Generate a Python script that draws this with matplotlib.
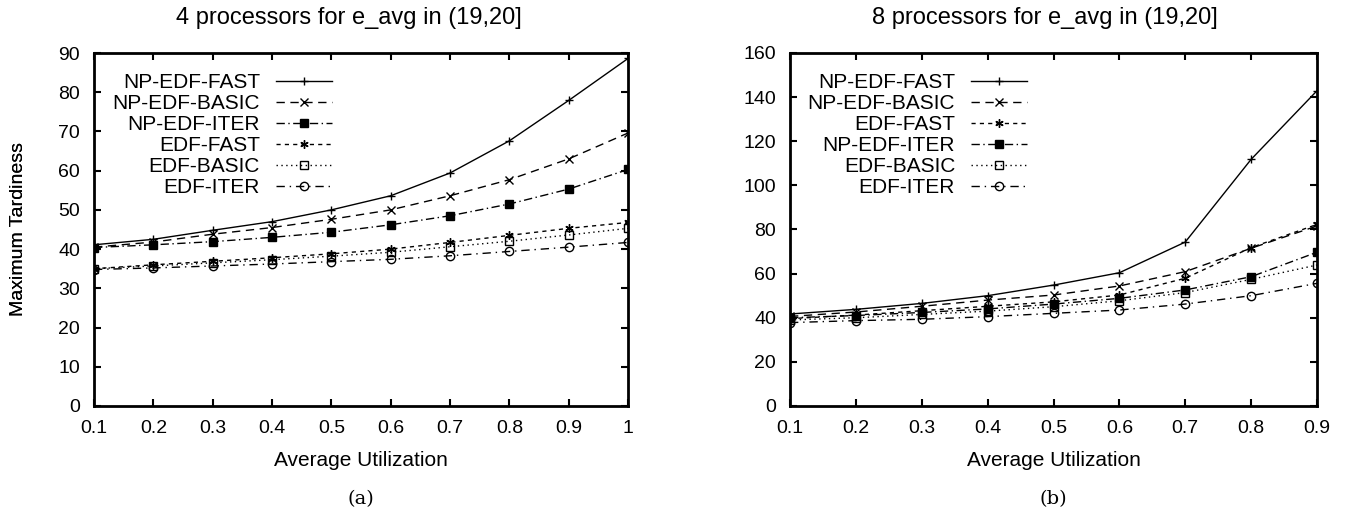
import matplotlib
matplotlib.use("Agg")
import matplotlib.pyplot as plt

plt.rcParams["font.family"] = ["Liberation Sans", "DejaVu Sans"]

# ---------- data ----------
util_4 = [0.1, 0.2, 0.3, 0.4, 0.5, 0.6, 0.7, 0.8, 0.9, 1.0]
util_8 = [0.1, 0.2, 0.3, 0.4, 0.5, 0.6, 0.7, 0.8, 0.9]

p4_np_edf_fast = [41.1, 42.5, 44.8, 47.0, 50.0, 53.6, 59.4, 67.6, 77.9, 88.6]
p4_np_edf_basic = [40.5, 41.8, 43.8, 45.5, 47.6, 50.0, 53.6, 57.7, 63.0, 69.6]
p4_np_edf_iter = [40.4, 41.1, 41.9, 43.0, 44.3, 46.2, 48.5, 51.5, 55.3, 60.3]
p4_edf_fast = [35.0, 36.0, 36.9, 37.8, 38.8, 40.0, 41.7, 43.5, 45.3, 46.8]
p4_edf_basic = [35.0, 35.7, 36.5, 37.3, 38.2, 39.2, 40.6, 42.0, 43.6, 45.3]
p4_edf_iter = [34.8, 35.2, 35.7, 36.2, 36.8, 37.4, 38.3, 39.4, 40.5, 41.7]

p8_np_edf_fast = [41.7, 43.8, 46.5, 50.0, 54.8, 60.4, 74.3, 111.8, 142.9]
p8_np_edf_basic = [40.6, 42.6, 45.2, 48.0, 50.3, 54.4, 60.9, 71.5, 81.6]
p8_edf_fast = [39.6, 41.2, 43.2, 45.2, 47.2, 50.3, 57.9, 71.8, 82.3]
p8_np_edf_iter = [40.0, 41.0, 42.4, 44.0, 46.2, 48.8, 52.6, 58.6, 69.7]
p8_edf_basic = [39.0, 40.0, 41.5, 43.0, 45.0, 47.7, 51.4, 57.4, 63.9]
p8_edf_iter = [37.8, 38.7, 39.3, 40.5, 42.0, 43.5, 46.2, 50.0, 55.6]

# ---------- per-method gnuplot-ish styles ----------
STYLE = {
    "NP-EDF-FAST": dict(ls="-", marker="+", mfc="black"),
    "NP-EDF-BASIC": dict(ls=(0, (6, 4)), marker="x", mfc="black"),
    "NP-EDF-ITER": dict(ls=(0, (6, 2.5, 1, 2.5)), marker="s", mfc="black"),
    "EDF-FAST": dict(ls=(0, (3, 3)), marker=(6, 2, 0), mfc="black"),
    "EDF-BASIC": dict(ls=(0, (1, 2.5)), marker="s", mfc="none"),
    "EDF-ITER": dict(ls=(0, (6, 3.5, 1, 3.5)), marker="o", mfc="none"),
}

W, H = 1353, 515
fig = plt.figure(figsize=(W / 100, H / 100), dpi=100)


def panel(box, x, series, ylim, yticks, xlabels, title, title_dx, tag, leg_xy):
    # box = (left, top, right, bottom) in pixels
    l, t, r, b = box
    ax = fig.add_axes([l / W, 1 - b / H, (r - l) / W, (b - t) / H])
    for name, y in series:
        st = STYLE[name]
        ax.plot(x, y, color="black", lw=1.0, linestyle=st["ls"],
                marker=st["marker"], ms=6, mfc=st["mfc"], mec="black",
                mew=1.0, label=name)
    ax.set_xlim(x[0], x[-1])
    ax.set_ylim(*ylim)
    ax.set_yticks(yticks)
    ax.set_xticks(x)
    ax.set_xticklabels(xlabels)
    ax.tick_params(direction="in", top=True, right=True, length=5, width=1.5,
                   labelsize=14, pad=10)
    for sp in ax.spines.values():
        sp.set_linewidth(2)
    hpx, wpx = b - t, r - l
    ax.set_title(title, fontsize=17, y=1 + 35 / hpx, va="center", pad=0)
    ax.title.set_x(0.5 + title_dx / wpx)
    ax.set_xlabel("Average Utilization", fontsize=15)
    ax.xaxis.set_label_coords(0.5, -55 / hpx)
    ax.xaxis.label.set_va("center")
    ax.set_ylabel("Maximum Tardiness", fontsize=14)
    ax.yaxis.set_label_coords(-(l - 19) / wpx, 0.5)
    ax.yaxis.label.set_va("center")
    ax.legend(loc="upper right", bbox_to_anchor=(leg_xy[0] / W, 1 - leg_xy[1] / H),
              bbox_transform=fig.transFigure, frameon=False, markerfirst=False,
              fontsize=15, handlelength=2.7, handletextpad=0.75,
              labelspacing=0.1, borderpad=0, borderaxespad=0)
    fig.text((l + r) / 2 / W, 1 - 499 / H, tag,
             ha="center", va="center", fontsize=14, family="DejaVu Serif")
    return ax


panel((94, 53, 628, 406), util_4,
      [("NP-EDF-FAST", p4_np_edf_fast), ("NP-EDF-BASIC", p4_np_edf_basic),
       ("NP-EDF-ITER", p4_np_edf_iter), ("EDF-FAST", p4_edf_fast),
       ("EDF-BASIC", p4_edf_basic), ("EDF-ITER", p4_edf_iter)],
      (0, 90), range(0, 91, 10),
      ["0.1", "0.2", "0.3", "0.4", "0.5", "0.6", "0.7", "0.8", "0.9", "1"],
      "4 processors for e_avg in (19,20]", -12, "(a)", (332, 73))

panel((790, 53, 1317, 406), util_8,
      [("NP-EDF-FAST", p8_np_edf_fast), ("NP-EDF-BASIC", p8_np_edf_basic),
       ("EDF-FAST", p8_edf_fast), ("NP-EDF-ITER", p8_np_edf_iter),
       ("EDF-BASIC", p8_edf_basic), ("EDF-ITER", p8_edf_iter)],
      (0, 160), range(0, 161, 20),
      ["0.1", "0.2", "0.3", "0.4", "0.5", "0.6", "0.7", "0.8", "0.9"],
      "8 processors for e_avg in (19,20]", -9, "(b)", (1027, 73))

fig.savefig("out.png", dpi=100)
